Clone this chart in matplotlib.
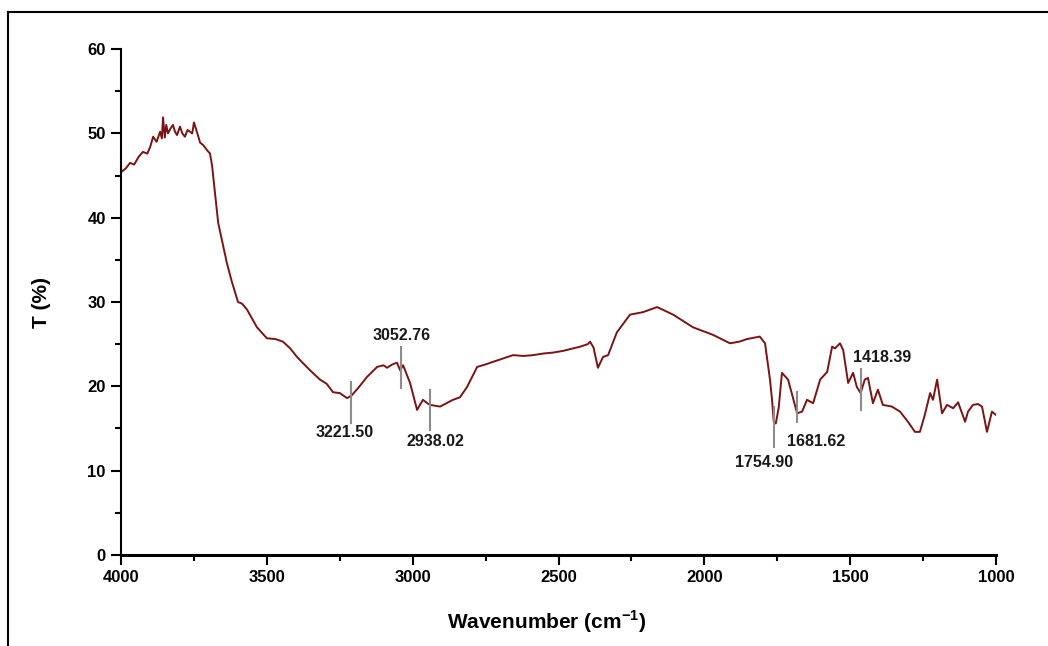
import matplotlib
matplotlib.use("Agg")
import matplotlib.pyplot as plt
from matplotlib.lines import Line2D
from matplotlib.ticker import MultipleLocator

plt.rcParams['font.family'] = ['Liberation Sans', 'DejaVu Sans']
plt.rcParams['mathtext.fontset'] = 'custom'
plt.rcParams['mathtext.rm'] = 'Liberation Sans'
plt.rcParams['mathtext.bf'] = 'Liberation Sans:bold'

# FTIR spectrum
wavenumber = [4000, 3985, 3969, 3955, 3940, 3925, 3910, 3900, 3890, 3878, 3866, 3860,
              3856, 3850, 3845, 3839, 3830, 3822, 3815, 3808, 3798, 3790, 3781, 3772,
              3764, 3756, 3750, 3740, 3729, 3718, 3705, 3695, 3688, 3667, 3637, 3620,
              3599, 3585, 3568, 3550, 3534, 3500, 3470, 3445, 3420, 3397, 3386, 3352,
              3318, 3295, 3273, 3250, 3225, 3210, 3187, 3157, 3122, 3100, 3088, 3070,
              3054, 3043, 3033, 3009, 2985, 2965, 2950, 2941, 2906, 2862, 2838, 2814,
              2779, 2750, 2725, 2690, 2656, 2620, 2587, 2550, 2519, 2485, 2450, 2426,
              2400, 2392, 2380, 2365, 2347, 2330, 2300, 2255, 2210, 2162, 2107, 2039,
              1970, 1912, 1880, 1854, 1810, 1792, 1775, 1768, 1762, 1755, 1745, 1734,
              1713, 1695, 1682, 1665, 1648, 1627, 1603, 1579, 1562, 1552, 1535, 1524,
              1507, 1490, 1477, 1464, 1450, 1439, 1422, 1405, 1388, 1357, 1329, 1302,
              1278, 1261, 1245, 1226, 1216, 1202, 1185, 1168, 1147, 1130, 1106, 1096,
              1079, 1062, 1048, 1031, 1014, 1000]
transmittance = [45.4, 45.8, 46.5, 46.3, 47.2, 47.8, 47.6, 48.4, 49.6, 49.0, 50.2, 49.4,
                 51.9, 49.5, 51.0, 50.0, 50.6, 51.0, 50.2, 49.8, 50.8, 50.0, 49.6, 50.4,
                 50.2, 50.0, 51.3, 50.2, 48.9, 48.6, 48.0, 47.6, 46.2, 39.4, 34.6, 32.4,
                 30.0, 29.8, 29.1, 28.0, 27.0, 25.7, 25.6, 25.3, 24.5, 23.5, 23.1, 21.9,
                 20.8, 20.3, 19.3, 19.2, 18.6, 18.9, 19.8, 21.1, 22.3, 22.5, 22.2, 22.6,
                 22.8, 21.9, 22.5, 20.4, 17.2, 18.4, 18.0, 17.8, 17.6, 18.4, 18.7, 19.9,
                 22.3, 22.6, 22.9, 23.3, 23.7, 23.6, 23.7, 23.9, 24.0, 24.2, 24.5, 24.7,
                 25.0, 25.3, 24.6, 22.2, 23.5, 23.7, 26.4, 28.5, 28.8, 29.4, 28.5, 27.0,
                 26.1, 25.1, 25.3, 25.6, 25.9, 25.1, 20.8, 18.4, 15.8, 15.6, 17.5, 21.6,
                 20.8, 18.5, 16.8, 17.0, 18.4, 18.0, 20.8, 21.7, 24.7, 24.5, 25.1, 24.3,
                 20.4, 21.6, 19.9, 19.2, 20.8, 21.0, 18.0, 19.6, 17.8, 17.6, 17.0, 15.8,
                 14.6, 14.6, 16.5, 19.2, 18.4, 20.8, 16.8, 17.8, 17.4, 18.1, 15.8, 17.0,
                 17.8, 17.9, 17.6, 14.6, 17.0, 16.6]

# peak labels, marker positions and extents
peak_labels = ['3221.50', '3052.76', '2938.02', '1754.90', '1681.62', '1418.39']
peak_pos = [3211, 3040, 2941, 1761, 1682, 1463]
peak_lo = [15.7, 19.8, 14.8, 12.8, 15.8, 17.2]
peak_hi = [20.5, 24.7, 19.6, 17.6, 19.3, 22.1]
label_x = [3232, 3037, 2923, 1795, 1617, 1391]
label_y = [14.5, 26.0, 13.4, 11.0, 13.4, 23.4]

fig = plt.figure(figsize=(10.48, 6.46), dpi=100)
ax = fig.add_axes([0.1155, 0.1409, 0.8349, 0.7832])

ax.plot(wavenumber, transmittance, color='#7a1414', lw=1.4)

for lab, xp, lo, hi, lx, ly in zip(peak_labels, peak_pos, peak_lo, peak_hi, label_x, label_y):
    ax.plot([xp, xp], [lo, hi], color='#8c8c8c', lw=1.5)
    ax.text(lx, ly, lab, ha='center', va='center', fontsize=11.5, fontweight='bold', color='#1a1a1a')

ax.set_xlim(4000, 1000)
ax.set_ylim(0, 60)
ax.xaxis.set_major_locator(MultipleLocator(500))
ax.xaxis.set_minor_locator(MultipleLocator(250))
ax.yaxis.set_major_locator(MultipleLocator(10))
ax.yaxis.set_minor_locator(MultipleLocator(5))
ax.tick_params(which='major', direction='out', length=7, width=1.5, labelsize=12, pad=4)
ax.tick_params(which='minor', direction='out', length=4, width=1.5)
for t in ax.get_xticklabels() + ax.get_yticklabels():
    t.set_fontweight('bold')

ax.spines['top'].set_visible(False)
ax.spines['right'].set_visible(False)
ax.spines['left'].set_linewidth(1.5)
ax.spines['bottom'].set_linewidth(2.2)

ax.set_xlabel(r'Wavenumber (cm$^{\mathbf{-1}}$)', fontsize=15, fontweight='bold')
ax.set_ylabel('T (%)', fontsize=15, fontweight='bold')
ax.xaxis.set_label_coords(0.487, -0.105)
ax.yaxis.set_label_coords(-0.08, 0.5)

# outer frame (top and left edges only)
fig.add_artist(Line2D([8 / 1048, 1.0], [1 - 12 / 646, 1 - 12 / 646], color='black', lw=1.5,
                      transform=fig.transFigure))
fig.add_artist(Line2D([8 / 1048, 8 / 1048], [0.0, 1 - 12 / 646], color='black', lw=1.5,
                      transform=fig.transFigure))

fig.savefig('out.png', dpi=100)
